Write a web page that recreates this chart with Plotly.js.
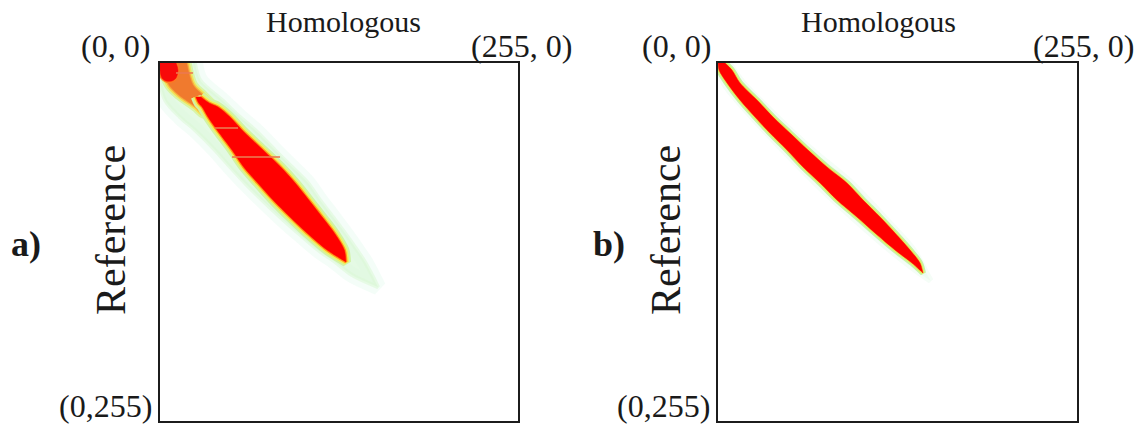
<!DOCTYPE html>
<html><head><meta charset="utf-8">
<script src="https://cdn.plot.ly/plotly-3.0.1.min.js"></script>
<style>html,body{margin:0;padding:0;background:#fff}#chart{width:1143px;height:429px}</style>
</head><body><div id="chart"></div>
<script>
// ---------- data (intensity units 0..255; x = Homologous, y = Reference) ----------
// Panel a: red core of the joint histogram, row by row
const aCoreRef   = [24.0, 28.5, 31.3, 38.5, 47.7, 62.0, 74.1, 85.5, 97.6, 109.7, 121.1, 133.2, 141.7];
const aCoreLeft  = [25.5, 27.5, 30.0, 34.2, 40.6, 51.3, 59.6, 69.6, 80.5, 92.6, 104.7, 119.0, 132.5];
const aCoreRight = [29.0, 35.0, 41.3, 49.9, 58.4, 73.4, 86.0, 96.3, 106.0, 115.5, 124.2, 131.3, 132.5];
// Panel a: red spot at the origin
const aSpotRef   = [0, 5.0, 10.7, 12.8];
const aSpotLeft  = [0, 0, 1.4, 4.3];
const aSpotRight = [11.4, 12.8, 11.4, 8.5];
// Panel a: orange band joining spot and core
const aBandRef   = [0, 15.7, 22.8, 31.3, 36.0];
const aBandLeft  = [0, 6.5, 13.5, 25.5, 31.0];
const aBandRight = [19.0, 23.5, 30.5, 39.0, 44.0];
// Panel a: faint outer halo
const aHaloRef   = [0, 12.1, 26.4, 38.5, 47.7, 62.0, 74.1, 85.5, 97.6, 109.7, 121.1, 133.2, 141.7, 151.0, 159.6];
const aHaloLeft  = [0, 0, 3.6, 14.2, 24.9, 39.2, 49.9, 60.5, 72.7, 85.5, 98.3, 112.5, 124.7, 136.8, 155.3];
const aHaloRight = [24.9, 28.5, 44.2, 57.0, 67.7, 81.9, 94.0, 105.4, 113.9, 123.2, 131.7, 140.3, 146.0, 151.0, 155.3];
// Panel a: horizontal streaks
const aStreakRef = [7.1, 46.3, 67.0];
const aStreakX0  = [11.4, 39.2, 51.3];
const aStreakX1  = [23.5, 55.6, 85.5];

// Panel b: red core
const bCoreRef   = [0, 5.0, 14.2, 26.4, 38.5, 49.9, 62.0, 74.1, 85.5, 97.6, 109.7, 121.1, 133.2, 142.5, 149.6];
const bCoreLeft  = [0, 0.7, 6.4, 15.6, 26.3, 36.9, 49.0, 60.4, 72.5, 84.5, 98.7, 111.5, 125.7, 137.8, 145.6];
const bCoreRight = [5.0, 9.9, 15.6, 27.7, 39.1, 51.1, 63.9, 77.4, 91.6, 103.0, 115.1, 125.7, 136.4, 143.5, 145.6];
// Panel b: faint halo
const bHaloRef   = [0, 14.2, 38.5, 62.0, 85.5, 109.7, 133.2, 149.6, 155.0];
const bHaloLeft  = [0, 4, 24, 46, 69, 95, 122, 143, 151];
const bHaloRight = [8, 18, 42, 67, 95, 118, 139, 148, 151];

const panelLabels = ['a)', 'b)'];
const xTitle = 'Homologous';
const yTitle = 'Reference';
const cornerLabels = ['(0, 0)', '(255, 0)', '(0,255)'];

// ---------- helpers ----------
function poly(ref, left, right) {
  return {
    x: left.concat(right.slice().reverse()),
    y: ref.concat(ref.slice().reverse())
  };
}
function shapeTrace(p, xa, ya, fill, lineColor, lineWidth) {
  return {
    type: 'scatter', mode: 'lines', x: p.x, y: p.y, xaxis: xa, yaxis: ya,
    fill: 'toself', fillcolor: fill,
    line: {color: lineColor, width: lineWidth, shape: 'spline', smoothing: 0.9},
    hoverinfo: 'skip', showlegend: false
  };
}
function rimTraces(p, xa, ya, rims, core) {
  const t = rims.map(r => shapeTrace(p, xa, ya, r[0], r[0], r[1]));
  t.push(shapeTrace(p, xa, ya, core, core, 0.5));
  return t;
}

const traces = [];
// Panel a
const aHalo = poly(aHaloRef, aHaloLeft, aHaloRight);
traces.push(shapeTrace(aHalo, 'x', 'y', 'rgba(228,250,238,0.5)', 'rgba(228,250,238,0.4)', 16));
traces.push(shapeTrace(aHalo, 'x', 'y', 'rgba(218,248,214,0.55)', 'rgba(218,248,214,0.55)', 4));
const aBand = poly(aBandRef, aBandLeft, aBandRight);
traces.push(...rimTraces(aBand, 'x', 'y', [['#d8f5a8', 10], ['#f2e45a', 6], ['#f6b040', 3]], '#f07a2e'));
const aCore = poly(aCoreRef, aCoreLeft, aCoreRight);
traces.push(...rimTraces(aCore, 'x', 'y', [['#d2f3a4', 10], ['#f2ee5c', 6], ['#ff9a1a', 3]], '#ff0000'));
const aSpot = poly(aSpotRef, aSpotLeft, aSpotRight);
traces.push(...rimTraces(aSpot, 'x', 'y', [['#ff7a20', 3]], '#f80a0a'));
const sx = [], sy = [];
aStreakRef.forEach((r, i) => { sx.push(aStreakX0[i], aStreakX1[i], null); sy.push(r, r, null); });
traces.push({type: 'scatter', mode: 'lines', x: sx, y: sy, xaxis: 'x', yaxis: 'y',
  line: {color: 'rgba(235,120,80,0.8)', width: 2}, hoverinfo: 'skip', showlegend: false});

// Panel b
const bHalo = poly(bHaloRef, bHaloLeft, bHaloRight);
traces.push(shapeTrace(bHalo, 'x2', 'y2', 'rgba(230,250,235,0.5)', 'rgba(230,250,235,0.4)', 6));
const bCore = poly(bCoreRef, bCoreLeft, bCoreRight);
traces.push(...rimTraces(bCore, 'x2', 'y2', [['#c8f2a8', 6], ['#e4f060', 3]], '#ff0000'));

// ---------- layout ----------
const W = 1143, H = 429;
const font = '"Liberation Serif", "Times New Roman", serif';
const axBase = {range: [0, 255], showgrid: false, zeroline: false, showticklabels: false,
  ticks: '', showline: true, mirror: true, linecolor: '#1c1c1c', linewidth: 2, fixedrange: true};
const yBase = Object.assign({}, axBase, {range: [255, 0]});

function ann(text, px, py, size, extra) {
  return Object.assign({text: text, xref: 'paper', yref: 'paper', x: px / W, y: 1 - py / H,
    xanchor: 'center', yanchor: 'middle', showarrow: false,
    font: {family: font, size: size, color: '#1a1a1a'}}, extra || {});
}
const panels = [
  {home: 343, c00: 115, c255: 521, c0255: 105, ref: 111, lab: 26},
  {home: 878, c00: 676, c255: 1083, c0255: 663, ref: 666, lab: 609}
];
const annotations = [];
panels.forEach((p, i) => {
  annotations.push(ann(xTitle, p.home, 21, 30));
  annotations.push(ann(cornerLabels[0], p.c00, 46, 32));
  annotations.push(ann(cornerLabels[1], p.c255, 46, 32));
  annotations.push(ann(cornerLabels[2], p.c0255, 406, 32));
  annotations.push(ann(yTitle, p.ref, 230, 42, {textangle: -90}));
  annotations.push(ann('<b>' + panelLabels[i] + '</b>', p.lab, 244, 36));
});

const layout = {
  width: W, height: H, margin: {l: 0, r: 0, t: 0, b: 0},
  paper_bgcolor: '#fff', plot_bgcolor: '#fff', showlegend: false,
  xaxis: Object.assign({}, axBase, {domain: [160 / W, 518 / W], anchor: 'y'}),
  yaxis: Object.assign({}, yBase, {domain: [(H - 421) / H, (H - 63) / H], anchor: 'x'}),
  xaxis2: Object.assign({}, axBase, {domain: [718 / W, 1077 / W], anchor: 'y2'}),
  yaxis2: Object.assign({}, yBase, {domain: [(H - 421) / H, (H - 63) / H], anchor: 'x2'}),
  annotations: annotations
};
Plotly.newPlot('chart', traces, layout, {staticPlot: true, displayModeBar: false});
</script></body></html>
